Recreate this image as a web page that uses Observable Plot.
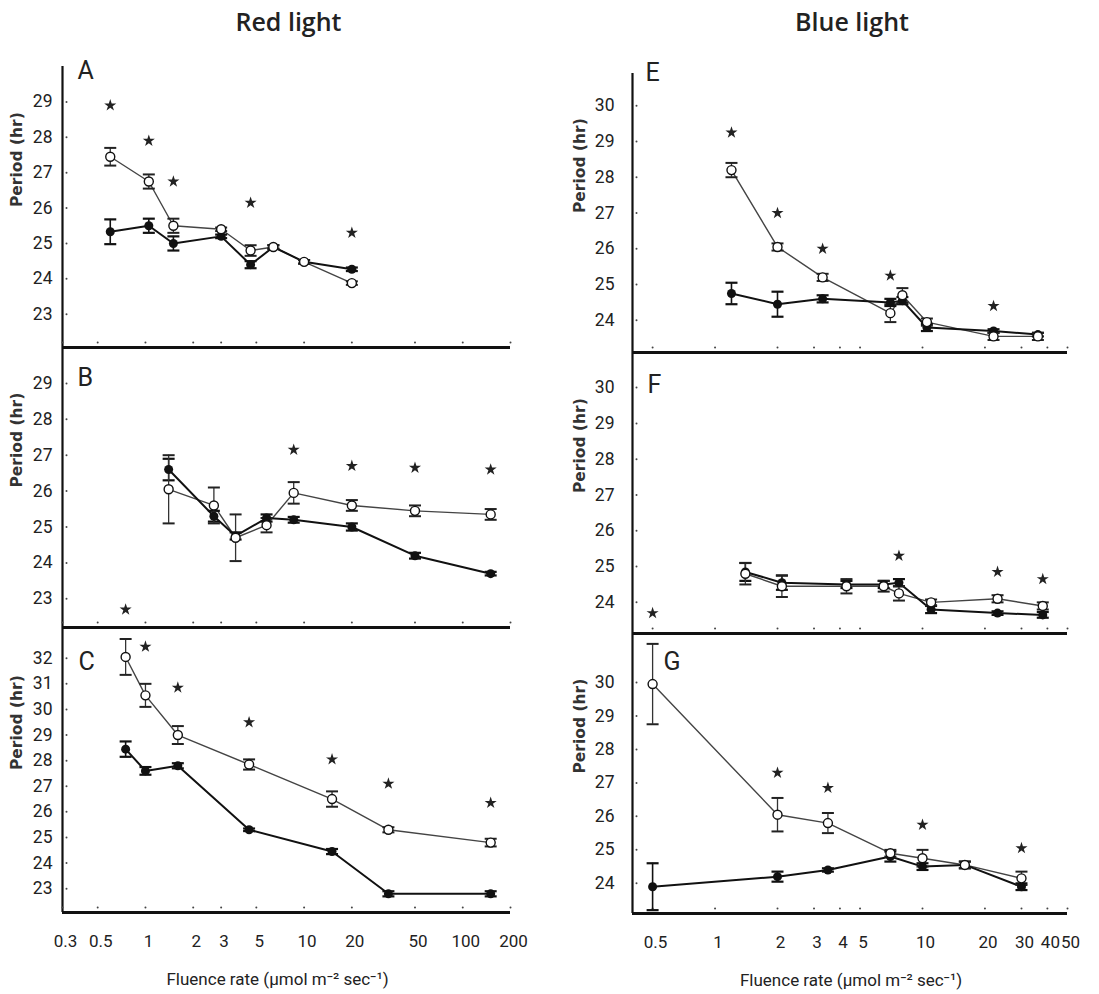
<!DOCTYPE html>
<html><head><meta charset="utf-8">
<script src="https://cdn.jsdelivr.net/npm/d3@7"></script>
<script src="https://cdn.jsdelivr.net/npm/@observablehq/plot@0.6"></script>
<style>
body{margin:0;background:#fff;}
#wrap{position:relative;width:1099px;height:994px;overflow:hidden;background:#fff;}
#wrap svg{position:absolute;top:0;}
</style></head><body><div id="wrap"></div>
<script>
// ---------- Data ----------
const redTicksX = [0.3, 0.5, 1, 2, 3, 5, 10, 20, 50, 100, 200];
const blueTicksX = [0.5, 1, 2, 3, 4, 5, 10, 20, 30, 40, 50];
const titles = ["Red light", "Blue light"];
const yLabel = "Period (hr)";
const xLabel = "Fluence rate (\u00b5mol m\u207b\u00b2 sec\u207b\u00b9)";

// Panel A (red)
const aX = [0.6, 1.05, 1.5, 3, 4.6, 6.4, 10, 20];
const aFilled = [25.33, 25.5, 25.0, 25.2, 24.4, 24.9, 24.48, 24.27];
const aFilledErr = [0.35, 0.2, 0.2, 0.05, 0.1, 0.05, 0.05, 0.05];
const aOpen = [27.45, 26.75, 25.5, 25.4, 24.8, 24.9, 24.48, 23.88];
const aOpenErr = [0.25, 0.2, 0.2, 0.05, 0.15, 0.05, 0.05, 0.05];
const aStarX = [0.6, 1.05, 1.5, 4.6, 20];
const aStarY = [28.9, 27.9, 26.75, 26.15, 25.3];

// Panel B (red)
const bX = [1.4, 2.7, 3.7, 5.8, 8.6, 20, 50, 150];
const bFilled = [26.6, 25.3, 24.75, 25.25, 25.2, 25.0, 24.2, 23.7];
const bFilledErr = [0.3, 0.15, 0.1, 0.1, 0.08, 0.1, 0.08, 0.05];
const bOpen = [26.05, 25.6, 24.7, 25.05, 25.95, 25.6, 25.45, 25.35];
const bOpenErr = [0.95, 0.5, 0.65, 0.2, 0.3, 0.15, 0.15, 0.15];
const bStarX = [0.75, 8.6, 20, 50, 150];
const bStarY = [22.7, 27.15, 26.7, 26.65, 26.6];

// Panel C (red)
const cX = [0.75, 1, 1.6, 4.5, 15, 34, 150];
const cFilled = [28.45, 27.6, 27.8, 25.3, 24.45, 22.8, 22.8];
const cFilledErr = [0.3, 0.15, 0.1, 0.05, 0.1, 0.1, 0.1];
const cOpen = [32.05, 30.55, 29.0, 27.85, 26.5, 25.3, 24.8];
const cOpenErr = [0.7, 0.45, 0.35, 0.2, 0.3, 0.1, 0.15];
const cStarX = [1, 1.6, 4.5, 15, 34, 150];
const cStarY = [32.45, 30.85, 29.5, 28.05, 27.1, 26.35];

// Panel E (blue)
const eX = [1.2, 2, 3.3, 7, 8, 10.5, 22, 36];
const eFilled = [24.75, 24.45, 24.6, 24.5, 24.55, 23.8, 23.7, 23.6];
const eFilledErr = [0.3, 0.35, 0.1, 0.1, 0.1, 0.1, 0.05, 0.05];
const eOpen = [28.2, 26.05, 25.2, 24.2, 24.7, 23.95, 23.55, 23.55];
const eOpenErr = [0.2, 0.1, 0.1, 0.25, 0.2, 0.1, 0.1, 0.1];
const eStarX = [1.2, 2, 3.3, 7, 22];
const eStarY = [29.25, 27.0, 26.0, 25.25, 24.4];

// Panel F (blue)
const fX = [1.4, 2.1, 4.3, 6.5, 7.7, 11, 23, 38];
const fFilled = [24.85, 24.55, 24.5, 24.5, 24.55, 23.8, 23.7, 23.65];
const fFilledErr = [0.25, 0.2, 0.1, 0.1, 0.1, 0.1, 0.05, 0.08];
const fOpen = [24.8, 24.45, 24.45, 24.45, 24.25, 24.0, 24.1, 23.9];
const fOpenErr = [0.3, 0.3, 0.2, 0.15, 0.2, 0.08, 0.1, 0.1];
const fStarX = [0.5, 7.7, 23, 38];
const fStarY = [23.7, 25.3, 24.85, 24.65];

// Panel G (blue)
const gX = [0.5, 2, 3.5, 7, 10, 16, 30];
const gFilled = [23.9, 24.2, 24.4, 24.8, 24.5, 24.55, 23.9];
const gFilledErr = [0.7, 0.15, 0.05, 0.15, 0.1, 0.1, 0.1];
const gOpen = [29.95, 26.05, 25.8, 24.9, 24.75, 24.55, 24.15];
const gOpenErr = [1.2, 0.5, 0.3, 0.1, 0.25, 0.1, 0.2];
const gStarX = [2, 3.5, 10, 30];
const gStarY = [27.3, 26.85, 25.75, 25.05];

const ticks23to29 = [23, 24, 25, 26, 27, 28, 29];
const ticks23to32 = [23, 24, 25, 26, 27, 28, 29, 30, 31, 32];
const ticks24to30 = [24, 25, 26, 27, 28, 29, 30];

// ---------- Drawing ----------
const FONT = 'Roboto, "Liberation Sans", sans-serif';
const capSymbol = {draw(ctx, size) { const r = Math.sqrt(size / Math.PI); ctx.moveTo(-r, 0); ctx.lineTo(r, 0); }};

function panel(cfg) {
  const rows = cfg.x.map((x, i) => ({x, f: cfg.filled[i], fe: cfg.filledErr[i], o: cfg.open[i], oe: cfg.openErr[i]}));
  const stars = cfg.starX.map((x, i) => ({x, y: cfg.starY[i]}));
  const x0 = cfg.xDomain[0], y0 = cfg.yDomain[0];
  const marks = [
    Plot.ruleX([x0], {strokeWidth: 2.2, stroke: "#111"}),
    Plot.ruleY([y0], {strokeWidth: 2.8, stroke: "#111"}),
    Plot.dot(cfg.yTicks, {x: () => x0, y: d => d, r: 1, dx: 4, fill: "#444"}),
    Plot.dot(cfg.xTicks, {x: d => d, y: () => y0, r: 1, dy: -5, fill: "#444"}),
    Plot.text(cfg.yTicks, {x: () => x0, y: d => d, text: d => String(d), dx: -cfg.yPad, textAnchor: "end", fontSize: 17.5, fill: "#222"}),
    Plot.text([cfg.letter], {frameAnchor: "top-left", dx: cfg.letterDx, dy: cfg.letterDy, lineAnchor: "top", textAnchor: "start", fontSize: 25, fill: "#222"}),
    Plot.text([yLabel], {frameAnchor: "left", dx: cfg.yLabelDx, rotate: -90, fontSize: 15.5, fontWeight: "bold", fontFamily: "DejaVu Sans", fill: "#333"}),
    // lines
    Plot.line(rows, {x: "x", y: "o", stroke: "#444", strokeWidth: 1.4}),
    Plot.line(rows, {x: "x", y: "f", stroke: "#111", strokeWidth: 2}),
    // error bars
    Plot.ruleX(rows, {x: "x", y1: d => d.f - d.fe, y2: d => d.f + d.fe, strokeWidth: 1.6, stroke: "#111"}),
    Plot.dot(rows, {x: "x", y: d => d.f + d.fe, symbol: capSymbol, r: 6, fill: "none", stroke: "#111", strokeWidth: 2.2}),
    Plot.dot(rows, {x: "x", y: d => d.f - d.fe, symbol: capSymbol, r: 6, fill: "none", stroke: "#111", strokeWidth: 2.2}),
    Plot.ruleX(rows, {x: "x", y1: d => d.o - d.oe, y2: d => d.o + d.oe, strokeWidth: 1.3, stroke: "#333"}),
    Plot.dot(rows, {x: "x", y: d => d.o + d.oe, symbol: capSymbol, r: 6, fill: "none", stroke: "#222", strokeWidth: 2}),
    Plot.dot(rows, {x: "x", y: d => d.o - d.oe, symbol: capSymbol, r: 6, fill: "none", stroke: "#222", strokeWidth: 2}),
    // points
    Plot.dot(rows, {x: "x", y: "f", r: 4.5, fill: "#111"}),
    Plot.dot(rows, {x: "x", y: "o", r: 4.5, fill: "white", stroke: "#111", strokeWidth: 1.4}),
    Plot.dot(stars, {x: "x", y: "y", symbol: "star", r: 3.8, fill: "#222"})
  ];
  if (cfg.bottom) {
    marks.push(Plot.text(cfg.xTicks, {x: d => d, y: () => y0, text: d => String(d), dx: 3, dy: 29, fontSize: 17, fill: "#222"}));
    marks.push(Plot.text([xLabel], {frameAnchor: "bottom", dx: cfg.xLabelDx, dy: 72, lineAnchor: "bottom", fontSize: 17, fill: "#222"}));
  }
  if (cfg.title) {
    marks.push(Plot.text([cfg.title], {frameAnchor: "top", dx: 2, dy: cfg.titleDy, lineAnchor: "bottom", fontSize: 25, fontWeight: 600, fontFamily: '"Open Sans", sans-serif', fill: "#222"}));
  }
  const mB = cfg.bottom ? 994 - cfg.bottomY : 4;
  const svg = Plot.plot({
    width: cfg.width,
    height: cfg.bottomY + mB,
    marginTop: cfg.topY,
    marginBottom: mB,
    marginLeft: cfg.mL,
    marginRight: cfg.mR,
    style: {background: "none", overflow: "visible", fontFamily: FONT, fontSize: "16px", color: "#222"},
    x: {type: "log", domain: cfg.xDomain, axis: null},
    y: {domain: cfg.yDomain, axis: null},
    marks
  });
  svg.style.left = cfg.left + "px";
  svg.style.top = "0px";
  svg.style.position = "absolute";
  document.getElementById("wrap").appendChild(svg);
}

const LEFT = {left: 0, width: 530, mL: 62, mR: 20, xDomain: [0.3, 200], xTicks: redTicksX, yPad: 10, yLabelDx: -45, xLabelDx: -9};
const RIGHT = {left: 560, width: 539, mL: 72, mR: 32, xDomain: [0.4, 50], xTicks: blueTicksX, yPad: 18, yLabelDx: -52, xLabelDx: 1};

panel({...LEFT, letter: "A", letterDx: 15, letterDy: -5, title: titles[0], titleDy: -36, topY: 66, bottomY: 347, yDomain: [22.06, 30.0], yTicks: ticks23to29,
  x: aX, filled: aFilled, filledErr: aFilledErr, open: aOpen, openErr: aOpenErr, starX: aStarX, starY: aStarY});
panel({...LEFT, letter: "B", letterDx: 15, letterDy: 21, topY: 347, bottomY: 627, yDomain: [22.2, 30.0], yTicks: ticks23to29,
  x: bX, filled: bFilled, filledErr: bFilledErr, open: bOpen, openErr: bOpenErr, starX: bStarX, starY: bStarY});
panel({...LEFT, letter: "C", letterDx: 16, letterDy: 25, bottom: true, topY: 627, bottomY: 912, yDomain: [22.07, 33.2], yTicks: ticks23to32,
  x: cX, filled: cFilled, filledErr: cFilledErr, open: cOpen, openErr: cOpenErr, starX: cStarX, starY: cStarY});
panel({...RIGHT, letter: "E", letterDx: 13, letterDy: -10, title: titles[1], titleDy: -43, topY: 73, bottomY: 352, yDomain: [23.1, 30.9], yTicks: ticks24to30,
  x: eX, filled: eFilled, filledErr: eFilledErr, open: eOpen, openErr: eOpenErr, starX: eStarX, starY: eStarY});
panel({...RIGHT, letter: "F", letterDx: 15, letterDy: 23, topY: 352, bottomY: 633, yDomain: [23.13, 30.98], yTicks: ticks24to30,
  x: fX, filled: fFilled, filledErr: fFilledErr, open: fOpen, openErr: fOpenErr, starX: fStarX, starY: fStarY});
panel({...RIGHT, letter: "G", letterDx: 31, letterDy: 19, bottom: true, topY: 633, bottomY: 913, yDomain: [23.1, 31.46], yTicks: ticks24to30,
  x: gX, filled: gFilled, filledErr: gFilledErr, open: gOpen, openErr: gOpenErr, starX: gStarX, starY: gStarY});
</script></body></html>
